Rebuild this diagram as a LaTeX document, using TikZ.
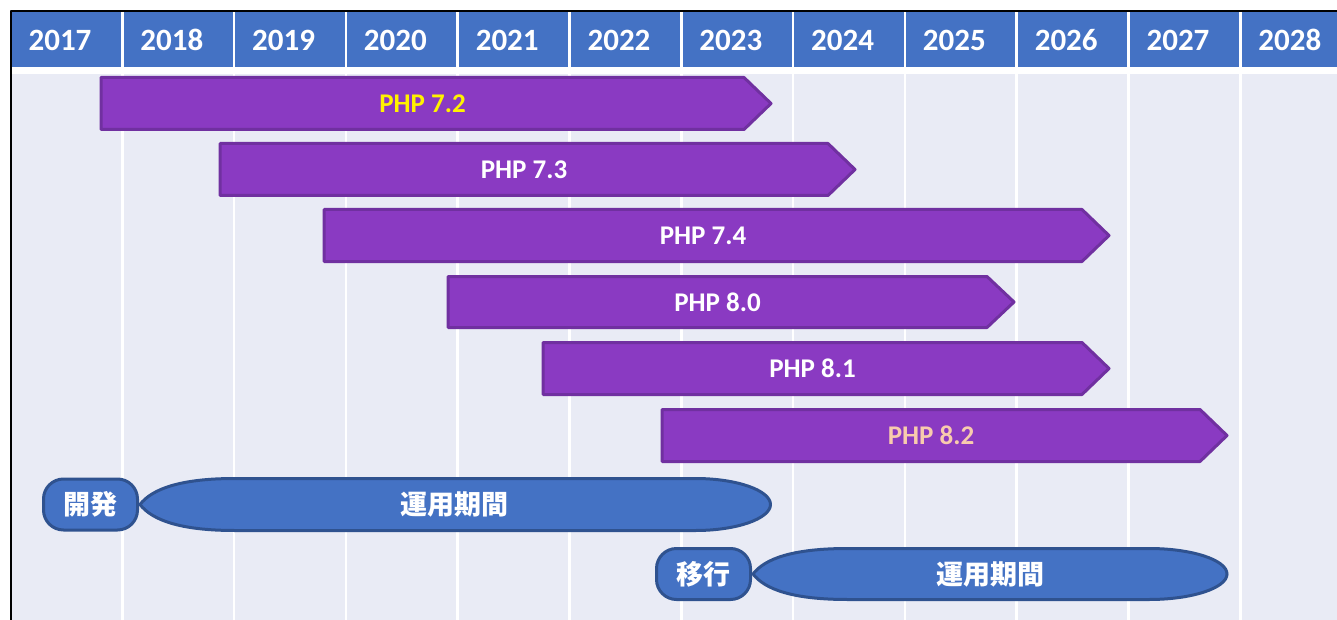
\documentclass[tikz,border=0pt]{standalone}
\usepackage{fontspec}
\setmainfont{Carlito}
\newfontfamily\jpfont{Noto Sans CJK JP}
\definecolor{hdrblue}{RGB}{68,114,196}
\definecolor{bandline}{RGB}{47,82,143}
\definecolor{bodybg}{RGB}{233,235,245}
\definecolor{barfill}{RGB}{138,58,194}
\definecolor{barline}{RGB}{112,48,160}
\definecolor{peach}{RGB}{248,203,173}

\begin{document}
\begin{tikzpicture}[x=1pt,y=-1pt,line cap=round,line join=round,
		bar/.style={fill=barfill,draw=barline,line width=3pt},
		band/.style={fill=hdrblue,draw=bandline,line width=3pt},
		pill/.style={band,rounded corners=20pt,minimum width=94pt,minimum height=51pt,inner sep=0pt},
		barlabel/.style={text=white,font=\fontsize{27}{30}\selectfont\bfseries},
		jplabel/.style={text=white,font=\jpfont\bfseries\fontsize{27}{30}\selectfont},
		yearlabel/.style={text=white,font=\fontsize{31}{34}\selectfont\bfseries}]
			\useasboundingbox (0,0) rectangle (1337,620);
			\fill [bodybg] (12,74) rectangle (1337,620);
			\fill [hdrblue] (12,12) rectangle (1337,67);
			\foreach \i in {0,...,10}
				\draw [white,line width=2.5pt,line cap=butt] (122.3+111.8*\i,12)-- (122.3+111.8*\i,620);
			\foreach \yr [count=\k from 0] in {2017,...,2028}
				\node [yearlabel] (y\yr) at (60+111.8*\k,40) {\yr};
			\draw [line width=2pt,line cap=butt] (11,620)-- (11,11)-- (1337,11);
			\draw [bar] (101,77.5)-- (744,77.5)-- (771,103.5)-- (744,129.5)-- (101,129.5)-- cycle;
			\draw [bar] (220,143.5)-- (828,143.5)-- (855,169.5)-- (828,195.5)-- (220,195.5)-- cycle;
			\draw [bar] (324,209.5)-- (1082,209.5)-- (1109,235.5)-- (1082,261.5)-- (324,261.5)-- cycle;
			\draw [bar] (448,276.5)-- (987,276.5)-- (1014,302)-- (987,327.5)-- (448,327.5)-- cycle;
			\draw [bar] (543,342.5)-- (1082,342.5)-- (1109,368.5)-- (1082,394.5)-- (543,394.5)-- cycle;
			\draw [bar] (662,409.5)-- (1200,409.5)-- (1227,435.5)-- (1200,461.5)-- (662,461.5)-- cycle;
			\node [barlabel,text=yellow] (php72) at (422.5,103.5) {PHP 7.2};
			\node [barlabel] (php73) at (524,169.5) {PHP 7.3};
			\node [barlabel] (php74) at (703,235.5) {PHP 7.4};
			\node [barlabel] (php80) at (717.5,302) {PHP 8.0};
			\node [barlabel] (php81) at (812.5,368.5) {PHP 8.1};
			\node [barlabel,text=peach] (php82) at (931,435.5) {PHP 8.2};
			\draw [band] (140,504.5) .. controls (152,489) and (180,478.5) .. (235,478.5)-- (695.5,478.5)
				.. controls (737,478.5) and (770.5,490.5) .. (770.5,504.5)
				.. controls (770.5,518.5) and (737,530.5) .. (695.5,530.5)-- (235,530.5)
				.. controls (180,530.5) and (152,520) .. (140,504.5)-- cycle;
			\draw [band] (753,574) .. controls (765,558.5) and (793,548.5) .. (848,548.5)-- (1149,548.5)
				.. controls (1192,548.5) and (1227,560) .. (1227,574)
				.. controls (1227,588) and (1192,599.5) .. (1149,599.5)-- (848,599.5)
				.. controls (793,599.5) and (765,589.5) .. (753,574)-- cycle;
			\node [pill] (dev) at (90.5,504.5) {};
			\node [pill] (mig) at (703.5,574) {};
			\node [jplabel] at (dev) {開発};
			\node [jplabel] at (mig) {移行};
			\node [jplabel] (ops1) at (454,504.5) {運用期間};
			\node [jplabel] (ops2) at (990,574) {運用期間};
		\end{tikzpicture}
\end{document}
